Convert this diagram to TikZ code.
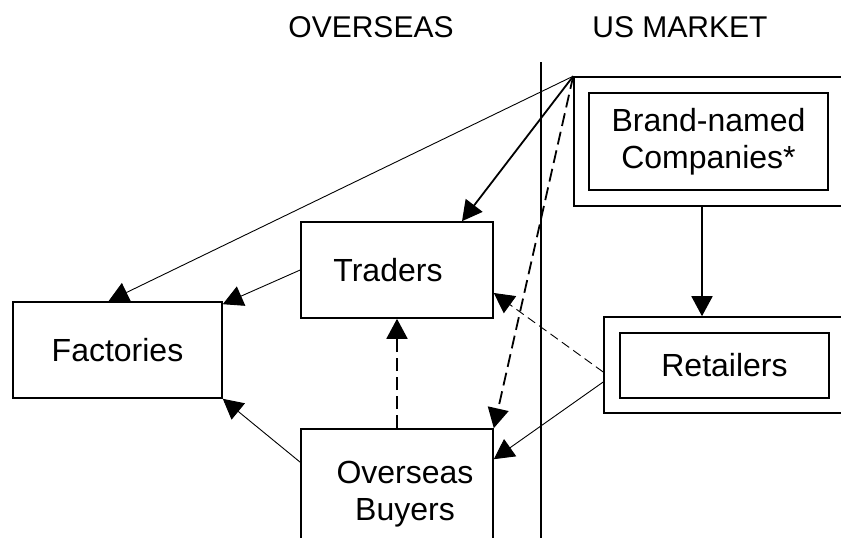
\documentclass[tikz,border=0pt]{standalone}
\usepackage{fontspec}
\setmainfont{Liberation Sans}
\usetikzlibrary{arrows.meta,positioning}
\tikzset{
box/.style={draw,line width=1.6pt,inner sep=0pt,align=center,font=\fontsize{32}{36.5}\selectfont},
arr/.style={-{Triangle[length=20pt,width=21pt]},line width=0.9pt},
thickarr/.style={arr,line width=1.8pt},
dasharr/.style={thickarr,dash pattern=on 13pt off 6pt},
thindasharr/.style={arr,dash pattern=on 9pt off 5pt},
}
\tikzstyle{every node}=[font=\fontsize{30}{34}\selectfont]

\begin{document}
\begin{tikzpicture}[x=1pt,y=-1pt]
        \clip (0,0) rectangle (841,538);
        \fill[white] (0,0) rectangle (841,538);

        % headings and border
        \node (hover) at (371,27) {OVERSEAS};
        \node (hus) at (680,27) {US MARKET};
        \coordinate (ltop) at (541,62);
        \coordinate (lbot) at (541,560);
        \draw[line width=1.6pt] (ltop) -- (lbot);

        % boxes
        \node[box,minimum width=209pt,minimum height=96pt] (fact) at (117.5,350) {Factories};
        \node[box,minimum width=192pt,minimum height=96pt] (trad) at (397,270) {Traders\hspace{18pt}};
        \node[box,minimum width=192pt,minimum height=130pt] (buy) at (397,494) {\hspace{16pt}Overseas\\\hspace{16pt}Buyers};
        \node[box,minimum width=286pt,minimum height=129pt] (brandout) at (717,141.5) {};
        \node[box,minimum width=239pt,minimum height=97pt] (brandin) at (708.5,141.5) {Brand-named\\Companies*};
        \node[box,minimum width=256pt,minimum height=96pt] (retout) at (732,365) {};
        \node[box,minimum width=209pt,minimum height=65pt] (retin) at (724.5,365.5) {Retailers};

        % connectors
        \draw[arr] (brandout.north west) -- ([xshift=-9pt]fact.north);
        \draw[thickarr] (brandout.north west) -- ([xshift=65pt]trad.north);
        \draw[dasharr] (brandout.north west) -- (buy.north east);
        \draw[arr] (trad.west) -- ([yshift=-3pt]fact.north east);
        \draw[arr] ([yshift=-34pt]buy.north west) -- (fact.south east);
        \draw[dasharr] (buy.north) -- (trad.south);
        \draw[thindasharr] ([yshift=-7pt]retout.west) -- ([yshift=-23pt]trad.east);
        \draw[arr] ([yshift=-17pt]retout.west) -- ([yshift=-31pt]buy.north east);
        \draw[thickarr] ([xshift=-15pt]brandout.south) -- ([xshift=-30pt]retout.north);
    \end{tikzpicture}
\end{document}
